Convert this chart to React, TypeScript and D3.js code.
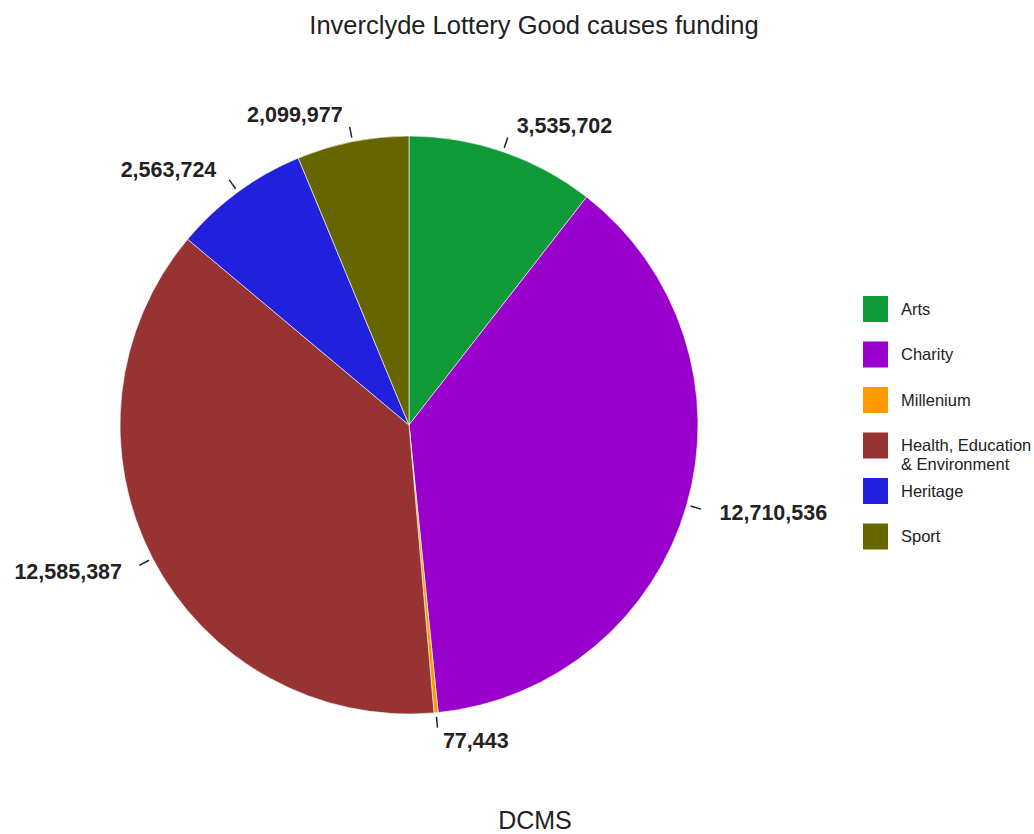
import React from "react";
import * as d3 from "d3";

const categories = ["Arts", "Charity", "Millenium", "Health, Education & Environment", "Heritage", "Sport"];
const legendLines = [["Arts"], ["Charity"], ["Millenium"], ["Health, Education", "& Environment"], ["Heritage"], ["Sport"]];
const values = [3535702, 12710536, 77443, 12585387, 2563724, 2099977];
const colors = ["#0f9a37", "#9900cc", "#ff9900", "#973333", "#2020dd", "#666600"];
const title = "Inverclyde Lottery Good causes funding";
const subtitle = "DCMS";

const W = 1034, H = 834;
const cx = 409, cy = 425, R = 289;
const FONT = "'Liberation Sans', Arial, sans-serif";

export default function App() {
  const data = categories.map((c, i) => ({ c, v: values[i], color: colors[i], i }));
  const pie = d3.pie<any>().value((d) => d.v).sort(null);
  const arcs = pie(data);
  const arcGen = d3.arc<any>().innerRadius(0).outerRadius(R);
  const fmt = d3.format(",");

  const legendScale = d3.scaleLinear().domain([0, 1]).range([296, 341.5]);

  return (
    <svg width={W} height={H} style={{ position: "absolute", left: 0, top: 0, background: "#fff" }}>
      <text x={534} y={34} textAnchor="middle" fontFamily={FONT} fontSize={25.5} fill="#222">{title}</text>
      <g transform={`translate(${cx},${cy})`}>
        {arcs.map((a, k) => (
          <path key={k} d={arcGen(a) as string} fill={a.data.color} stroke="#fff" strokeOpacity={0.6} strokeWidth={1} />
        ))}
        {arcs.map((a, k) => {
          const mid = (a.startAngle + a.endAngle) / 2;
          const s = Math.sin(mid), c = Math.cos(mid);
          const r1 = R + 4, r2 = R + 15, rl = R + 20;
          const lx = rl * s, ly = -rl * c;
          const sign = s >= 0 ? 1 : -1;
          const tx = lx + sign * (4 + 10 * Math.abs(s));
          const ty = ly - c * 8;
          return (
            <g key={"l" + k}>
              <line x1={r1 * s} y1={-r1 * c} x2={r2 * s} y2={-r2 * c} stroke="#222" strokeWidth={1.5} />
              <text x={tx} y={ty} dy="0.35em" textAnchor={s >= 0 ? "start" : "end"} fontFamily={FONT}
                fontSize={21.5} fontWeight="bold" fill="#222">{fmt(a.data.v)}</text>
            </g>
          );
        })}
      </g>
      {legendLines.map((lines, i) => {
        const y = legendScale(i);
        return (
          <g key={"lg" + i}>
            <rect x={863} y={y} width={25} height={26} fill={colors[i]} />
            {lines.map((ln, j) => (
              <text key={j} x={901} y={y + 13 + j * 19} dy="0.35em" fontFamily={FONT} fontSize={16.5} fill="#222">{ln}</text>
            ))}
          </g>
        );
      })}
      <text x={535} y={829} textAnchor="middle" fontFamily={FONT} fontSize={25} fill="#222">{subtitle}</text>
    </svg>
  );
}
